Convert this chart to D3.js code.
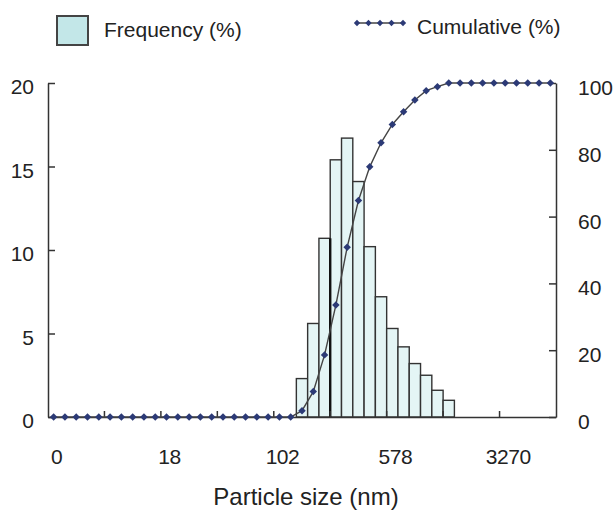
<!DOCTYPE html>
<html>
<head>
<meta charset="utf-8">
<script src="https://cdn.jsdelivr.net/npm/d3@7"></script>
<style>
    body { margin: 0; background: #fff; }
    svg { display: block; }
    text { font-family: "Liberation Sans", Arial, sans-serif; fill: #222; }
    .axis path, .axis line { stroke: #333; stroke-width: 1.5; }
    .axis text { font-size: 21px; }
</style>
</head>
<body>
<svg id="chart" width="616" height="512"></svg>
<script>
// particle size classes (nm), one per bin on the category axis
const sizes = [0, 3.8, 4.5, 5.3, 6.4, 7.6, 9.0, 10.7, 12.7, 15.1,
    18, 21, 25, 30, 36, 43, 51, 61, 72, 86,
    102, 121, 144, 172, 204, 243, 289, 344, 409, 486,
    578, 687, 817, 972, 1156, 1375, 1635, 1945, 2313, 2750,
    3270, 3889, 4625, 5500, 6541];

const frequency = [0, 0, 0, 0, 0, 0, 0, 0, 0, 0,
    0, 0, 0, 0, 0, 0, 0, 0, 0, 0,
    0, 0, 2.3, 5.6, 10.7, 15.4, 16.7, 14.1, 10.2, 7.2,
    5.3, 4.2, 3.2, 2.5, 1.6, 1.0, 0, 0, 0, 0,
    0, 0, 0, 0, 0];

const cumulative = [0, 0, 0, 0, 0, 0, 0, 0, 0, 0,
    0, 0, 0, 0, 0, 0, 0, 0, 0, 0,
    0, 0, 1.9, 7.6, 18.6, 33.5, 50.8, 64.8, 74.9, 82.1,
    87.6, 91.4, 94.9, 97.7, 98.9, 100, 100, 100, 100, 100,
    100, 100, 100, 100, 100];

const labelIdx = [0, 10, 20, 30, 40];      // bins that carry a size label
const tickIdx = [5, 10, 15, 20, 25, 30, 35, 40]; // bin edges with a tick mark
const leftTicks = [0, 5, 10, 15, 20];
const rightTicks = [0, 20, 40, 60, 80, 100];
const medianEdge = 25;  // darker edge between the two central bins

const barFill = "#e4f5f5", legendFill = "#c3e7e8";
const markColor = "#2c3a76";

const svg = d3.select("#chart");
const margin = {top: 83, right: 60, bottom: 95, left: 48};
const W = 616, H = 512;

const x = d3.scaleBand()
    .domain(sizes.map((d, i) => i))
    .range([margin.left, W - margin.right]);
const yL = d3.scaleLinear().domain([0, 20]).range([H - margin.bottom, margin.top]);
const yR = d3.scaleLinear().domain([0, 100]).range([H - margin.bottom, margin.top]);
const base = yL(0);

// bars
svg.append("g")
    .selectAll("rect")
    .data(frequency.map((v, i) => ({i, v})).filter(d => d.v > 0))
    .join("rect")
    .attr("x", d => x(d.i))
    .attr("y", d => yL(d.v))
    .attr("width", x.bandwidth())
    .attr("height", d => base - yL(d.v))
    .attr("fill", barFill)
    .attr("stroke", "#333")
    .attr("stroke-width", 1.4);

svg.append("line")
    .attr("x1", x(medianEdge)).attr("x2", x(medianEdge))
    .attr("y1", base).attr("y2", yL(Math.min(frequency[medianEdge - 1], frequency[medianEdge])))
    .attr("stroke", "#111")
    .attr("stroke-width", 2.4);

// axes
const leftAxis = svg.append("g")
    .attr("class", "axis")
    .attr("transform", "translate(" + margin.left + ",0)")
    .call(d3.axisLeft(yL).tickValues(leftTicks).tickSizeInner(-7).tickSizeOuter(0).tickPadding(14));
leftAxis.selectAll("text").attr("dy", "0.52em");

const rightAxis = svg.append("g")
    .attr("class", "axis")
    .attr("transform", "translate(" + (W - margin.right) + ",0)")
    .call(d3.axisRight(yR).tickValues(rightTicks).tickSizeInner(-7).tickSizeOuter(0).tickPadding(22));
rightAxis.selectAll("text").attr("dy", "0.55em");

const bottomAxis = svg.append("g")
    .attr("class", "axis")
    .attr("transform", "translate(0," + base + ")")
    .call(d3.axisBottom(x).tickValues(labelIdx).tickFormat(i => sizes[i]).tickSize(0).tickPadding(32));
bottomAxis.selectAll("text").attr("dx", 3).attr("letter-spacing", "-0.5px");

bottomAxis.selectAll(".edge")
    .data(tickIdx)
    .join("line")
    .attr("class", "edge")
    .attr("x1", i => x(i)).attr("x2", i => x(i))
    .attr("y1", 0).attr("y2", -6);

svg.append("text")
    .attr("x", (margin.left + W - margin.right) / 2 + 4)
    .attr("y", 505)
    .attr("text-anchor", "middle")
    .attr("font-size", 24)
    .text("Particle size (nm)");

// cumulative curve
const line = d3.line()
    .x((d, i) => x(i) + x.bandwidth() / 2)
    .y(d => yR(d));

svg.append("path")
    .datum(cumulative)
    .attr("d", line)
    .attr("fill", "none")
    .attr("stroke", "#444")
    .attr("stroke-width", 1.4);

const diamond = d3.symbol(d3.symbolSquare, 28);
svg.append("g")
    .selectAll("path")
    .data(cumulative)
    .join("path")
    .attr("d", diamond)
    .attr("transform", (d, i) => "translate(" + (x(i) + x.bandwidth() / 2) + "," + yR(d) + ") rotate(45)")
    .attr("fill", markColor);

// legend
const legend = svg.append("g");
legend.append("rect")
    .attr("x", 57).attr("y", 16)
    .attr("width", 31).attr("height", 29)
    .attr("fill", legendFill)
    .attr("stroke", "#444")
    .attr("stroke-width", 2);
legend.append("text")
    .attr("x", 104).attr("y", 30)
    .attr("dy", "0.35em")
    .attr("font-size", 21)
    .text("Frequency (%)");

const lgX = [357, 368.5, 380, 391.5, 403];
const lgMark = d3.symbol(d3.symbolSquare, 20);
legend.append("line")
    .attr("x1", lgX[0]).attr("x2", lgX[lgX.length - 1])
    .attr("y1", 23).attr("y2", 23)
    .attr("stroke", "#444")
    .attr("stroke-width", 1.4);
legend.selectAll(".lg-mark")
    .data(lgX)
    .join("path")
    .attr("class", "lg-mark")
    .attr("d", lgMark)
    .attr("transform", d => "translate(" + d + ",23) rotate(45)")
    .attr("fill", markColor);
legend.append("text")
    .attr("x", 417).attr("y", 27)
    .attr("dy", "0.35em")
    .attr("font-size", 21)
    .text("Cumulative (%)");
</script>
</body>
</html>
